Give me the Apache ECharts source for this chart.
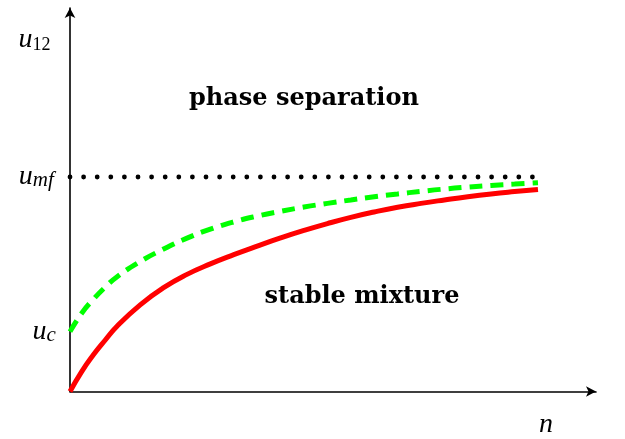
<!DOCTYPE html>
<html>
<head>
<meta charset="utf-8">
<script src="https://cdn.jsdelivr.net/npm/echarts@6/dist/echarts.min.js"></script>
<style>
html,body{margin:0;padding:0;background:#fff;}
#main{width:625px;height:439px;}
</style>
</head>
<body>
<div id="main"></div>
<script>
// ---- data (n in arbitrary units, u in units of u_mf) ----
var nValues   = [0, 0.25, 0.5, 0.75, 1, 1.5, 2, 2.5, 3, 3.5, 4, 4.5, 5, 5.5, 6, 6.5, 7, 7.5, 8, 8.5, 9, 9.5, 10];
var redCurve  = [0, 0.093, 0.171, 0.239, 0.303, 0.404, 0.484, 0.546, 0.595, 0.638, 0.678, 0.716, 0.751, 0.783, 0.812, 0.837, 0.859, 0.877, 0.893, 0.908, 0.921, 0.932, 0.942];
var greenCurve= [0.279, 0.365, 0.430, 0.486, 0.534, 0.606, 0.664, 0.715, 0.757, 0.791, 0.818, 0.840, 0.860, 0.877, 0.893, 0.908, 0.921, 0.933, 0.944, 0.953, 0.961, 0.967, 0.973];
var umfLevel  = 1.0;
var ucLevel   = 0.277;
var u12Level  = 1.639;
var nMax = 10;

// axis-label / annotation anchors (data coordinates)
var axisLabels = [
  {x: -0.76, y: u12Level, text: '{u|u}{s|12}'},
  {x: -0.72, y: umfLevel, text: '{u|u}{si|mf}'},
  {x: -0.55, y: ucLevel,  text: '{u|u}{si|c}'},
  {x: 10.17, y: -0.156,   text: '{u|n}'}
];
var regionLabels = [
  {x: 5.0,  y: 1.364, text: 'phase separation'},
  {x: 6.24, y: 0.44,  text: 'stable mixture'}
];

function pairs(xs, ys){ return xs.map(function(x,i){ return [x, ys[i]]; }); }

var chart = echarts.init(document.getElementById('main'), null, {renderer:'canvas'});

var mathRich = {
  u:  {fontFamily:'Liberation Serif', fontStyle:'italic', fontSize:28, fill:'#000', lineHeight:28},
  s:  {fontFamily:'Liberation Serif', fontSize:18, fill:'#000', verticalAlign:'bottom', lineHeight:16},
  si: {fontFamily:'Liberation Serif', fontStyle:'italic', fontSize:21, fill:'#000', verticalAlign:'bottom', lineHeight:16}
};

chart.setOption({
  animation:false,
  backgroundColor:'#fff',
  grid:{left:70, right:29, top:8, bottom:47.5, containLabel:false},
  xAxis:{
    type:'value', min:0, max:11.24,
    axisLine:{show:true, symbol:['none','arrow'], symbolSize:[8,10], lineStyle:{color:'#000', width:1.6}},
    axisTick:{show:false}, axisLabel:{show:false}, splitLine:{show:false}
  },
  yAxis:{
    type:'value', min:0, max:1.788,
    axisLine:{show:true, symbol:['none','arrow'], symbolSize:[8,10], lineStyle:{color:'#000', width:1.6}},
    axisTick:{show:false}, axisLabel:{show:false}, splitLine:{show:false}
  },
  series:[
    {
      type:'line', name:'u_mf', data:[[0, umfLevel],[nMax, umfLevel]],
      symbol:'none', silent:true,
      lineStyle:{color:'#000', width:4.8, type:[0, 13.6], cap:'round'}
    },
    {
      type:'line', name:'green', data:pairs(nValues, greenCurve),
      symbol:'none', smooth:0.5, silent:true,
      lineStyle:{color:'#00ff00', width:5, type:[13, 8], cap:'butt'}
    },
    {
      type:'line', name:'red', data:pairs(nValues, redCurve),
      symbol:'none', smooth:0.5, silent:true,
      lineStyle:{color:'#ff0000', width:5}
    }
  ]
});

// place text annotations at data coordinates converted by the chart's own scales
var graphics = [];
axisLabels.forEach(function(d){
  var p = chart.convertToPixel({gridIndex:0}, [d.x, d.y]);
  graphics.push({type:'text', x:p[0], y:p[1], silent:true, z:10,
    style:{text:d.text, rich:mathRich, fill:'#000', align:'center', verticalAlign:'middle'}});
});
regionLabels.forEach(function(d){
  var p = chart.convertToPixel({gridIndex:0}, [d.x, d.y]);
  graphics.push({type:'text', x:p[0], y:p[1], silent:true, z:10,
    style:{text:d.text, fill:'#000', font:'bold 24px "DejaVu Serif"', align:'center', verticalAlign:'middle'}});
});
chart.setOption({graphic:graphics});
</script>
</body>
</html>
